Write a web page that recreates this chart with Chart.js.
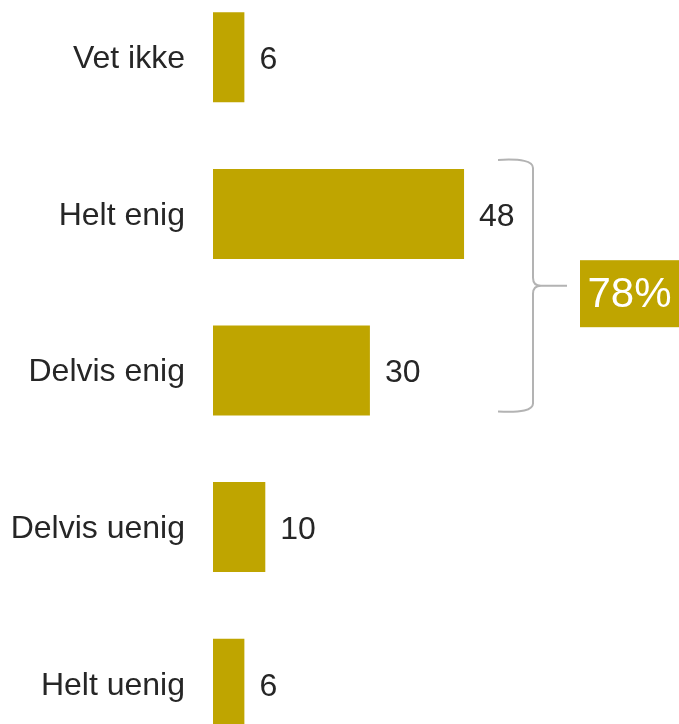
<!DOCTYPE html>
<html>
<head>
<meta charset="utf-8">
<script src="https://cdn.jsdelivr.net/npm/chart.js@4/dist/chart.umd.min.js"></script>
<style>
  html, body { margin: 0; padding: 0; overflow: hidden; background: #fff; }
  #wrap { position: absolute; left: 0; top: -21px; width: 679px; height: 783px; }
</style>
</head>
<body>
<div id="wrap"><canvas id="chart"></canvas></div>
<script>
const categories = ['Vet ikke', 'Helt enig', 'Delvis enig', 'Delvis uenig', 'Helt uenig'];
const values = [6, 48, 30, 10, 6];
const bracketed = ['Helt enig', 'Delvis enig'];

const barColor = '#bfa500';
const textColor = '#262626';
const fontFamily = '"Liberation Sans", Arial, sans-serif';

// value labels at the bar ends
const valueLabels = {
  id: 'valueLabels',
  afterDatasetsDraw(chart) {
    const ctx = chart.ctx;
    const meta = chart.getDatasetMeta(0);
    ctx.save();
    ctx.font = '32px ' + fontFamily;
    ctx.fillStyle = textColor;
    ctx.textAlign = 'left';
    ctx.textBaseline = 'middle';
    meta.data.forEach((bar, i) => {
      ctx.fillText(values[i], bar.x + 15, bar.y + 3);
    });
    ctx.restore();
  }
};

// curly brace + total box
const braceTotal = {
  id: 'braceTotal',
  afterDraw(chart) {
    const ctx = chart.ctx;
    const meta = chart.getDatasetMeta(0);
    const idx = bracketed.map(c => categories.indexOf(c));
    const b1 = meta.data[idx[0]], b2 = meta.data[idx[1]];
    const top = b1.y - b1.height / 2 - 9;
    const bot = b2.y + b2.height / 2 - 4;
    const mid = (top + bot) / 2;
    const x0 = 498, x1 = 533, xm = 567, r = 8;
    ctx.save();
    ctx.strokeStyle = '#b3b3b3';
    ctx.lineWidth = 2;
    ctx.beginPath();
    ctx.moveTo(x0, top);
    ctx.quadraticCurveTo(x1, top - 2, x1, top + r);
    ctx.lineTo(x1, mid - r);
    ctx.quadraticCurveTo(x1, mid, x1 + r, mid);
    ctx.lineTo(xm, mid);
    ctx.moveTo(x1 + r, mid);
    ctx.quadraticCurveTo(x1, mid, x1, mid + r);
    ctx.lineTo(x1, bot - r);
    ctx.quadraticCurveTo(x1, bot + 2, x0, bot);
    ctx.stroke();

    const total = idx.reduce((s, i) => s + values[i], 0);
    const bx = 580, bw = 99, bh = 67;
    ctx.fillStyle = barColor;
    ctx.fillRect(bx, mid - bh / 2 + 8, bw, bh);
    ctx.fillStyle = '#ffffff';
    ctx.font = '42px ' + fontFamily;
    ctx.textAlign = 'center';
    ctx.textBaseline = 'middle';
    ctx.fillText(total + '%', bx + bw / 2, mid + 10);
    ctx.restore();
  }
};

new Chart(document.getElementById('chart'), {
  type: 'bar',
  data: {
    labels: categories,
    datasets: [{
      data: values,
      backgroundColor: barColor,
      borderWidth: 0,
      barPercentage: 0.575,
      categoryPercentage: 1.0
    }]
  },
  options: {
    indexAxis: 'y',
    responsive: true,
    maintainAspectRatio: false,
    animation: false,
    layout: { padding: 0 },
    plugins: {
      legend: { display: false },
      tooltip: { enabled: false }
    },
    scales: {
      x: {
        display: false,
        min: 0,
        max: 89.1
      },
      y: {
        grid: { display: false, drawTicks: false },
        border: { display: false },
        ticks: {
          color: textColor,
          padding: 28,
          labelOffset: 2,
          font: { family: fontFamily, size: 32 }
        },
        afterFit(scale) {
          scale.width = 213;
          scale.paddingTop = 0;
          scale.paddingBottom = 0;
        }
      }
    }
  },
  plugins: [valueLabels, braceTotal]
});
</script>
</body>
</html>
